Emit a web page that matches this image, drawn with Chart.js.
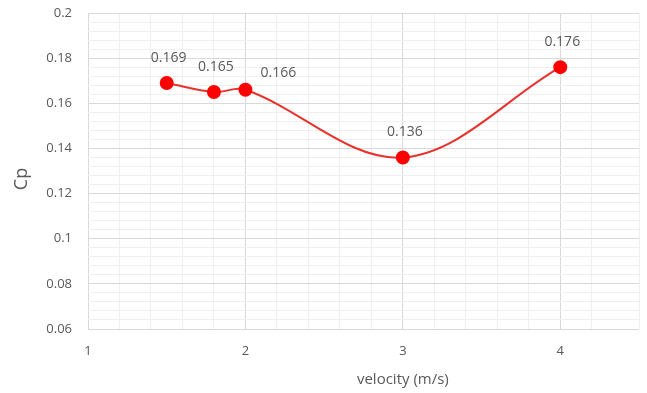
<!DOCTYPE html>
<html>
<head>
<meta charset="utf-8">
<script src="https://cdn.jsdelivr.net/npm/chart.js@4"></script>
<style>
  html, body { margin: 0; padding: 0; background: #fff; }
  #wrap { width: 647px; height: 393px; }
</style>
</head>
<body>
<div id="wrap"><canvas id="cpChart"></canvas></div>
<script>
// data
const velocity = [1.5, 1.8, 2, 3, 4];
const cp = [0.169, 0.165, 0.166, 0.136, 0.176];
const cpLabels = ["0.169", "0.165", "0.166", "0.136", "0.176"];

const textColor = "#595959";
const fontFamily = "'Open Sans', 'Liberation Sans', sans-serif";

function isMultiple(v, step) {
    const r = v / step;
    return Math.abs(r - Math.round(r)) < 1e-6;
}

// value labels + axis titles
const labelPlugin = {
    id: "labels",
    afterDatasetsDraw(chart) {
        const ctx = chart.ctx;
        const meta = chart.getDatasetMeta(0);
        ctx.save();
        ctx.fillStyle = textColor;
        ctx.font = "14px " + fontFamily;
        ctx.textAlign = "center";
        ctx.textBaseline = "middle";
        meta.data.forEach((pt, i) => {
            // 0.166 sits to the right of its point in the original
            if (i === 2) {
                ctx.fillText(cpLabels[i], pt.x + 33, pt.y - 17);
            } else {
                ctx.fillText(cpLabels[i], pt.x + 2, pt.y - 25);
            }
        });

        const area = chart.chartArea;
        ctx.font = "15px " + fontFamily;
        ctx.fillText("velocity (m/s)", chart.scales.x.getPixelForValue(3), 380);

        ctx.font = "18px " + fontFamily;
        ctx.translate(22, (area.top + area.bottom) / 2 + 8);
        ctx.rotate(-Math.PI / 2);
        ctx.fillText("Cp", 0, 0);
        ctx.restore();
    }
};

new Chart(document.getElementById("cpChart"), {
    type: "line",
    data: {
        datasets: [{
            label: "Cp",
            data: velocity.map((v, i) => ({ x: v, y: cp[i] })),
            borderColor: "#e8312c",
            borderWidth: 2,
            backgroundColor: "#ff0000",
            pointBackgroundColor: "#ff0000",
            pointBorderColor: "#ff0000",
            pointRadius: 6,
            tension: 0.35,
            fill: false
        }]
    },
    options: {
        responsive: true,
        maintainAspectRatio: false,
        animation: false,
        layout: { padding: { left: 0, right: 5, top: 13, bottom: 0 } },
        plugins: {
            legend: { display: false },
            tooltip: { enabled: false }
        },
        scales: {
            x: {
                type: "linear",
                min: 1,
                max: 4.5,
                afterFit(scale) {
                    scale.height = 64;
                    scale.paddingLeft = 0;
                    scale.paddingRight = 0;
                },
                ticks: {
                    stepSize: 0.2,
                    autoSkip: false,
                    maxRotation: 0,
                    padding: 14,
                    color: textColor,
                    font: { size: 13, family: fontFamily },
                    callback: v => isMultiple(v, 1) ? String(Math.round(v)) : ""
                },
                grid: {
                    drawTicks: false,
                    color: c => isMultiple(c.tick.value, 1) ? "#d9d9d9" : "#efefef"
                },
                border: { display: false }
            },
            y: {
                min: 0.06,
                max: 0.2,
                afterFit(scale) {
                    scale.width = 88;
                    scale.paddingTop = 0;
                    scale.paddingBottom = 0;
                },
                ticks: {
                    stepSize: 0.004,
                    autoSkip: false,
                    padding: 16,
                    color: textColor,
                    font: { size: 13, family: fontFamily },
                    callback: v => isMultiple(v, 0.02) ? String(Math.round(v * 100) / 100) : ""
                },
                grid: {
                    drawTicks: false,
                    color: c => isMultiple(c.tick.value, 0.02) ? "#d9d9d9" : "#efefef"
                },
                border: { display: false }
            }
        }
    },
    plugins: [labelPlugin]
});
</script>
</body>
</html>
